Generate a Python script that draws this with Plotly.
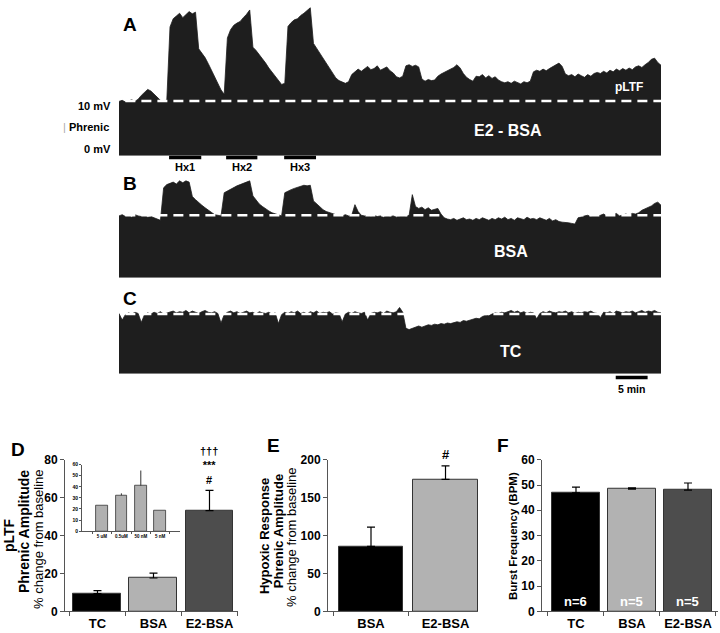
import numpy as np
import plotly.graph_objects as go

W, H = 720, 633
FONT = "Liberation Sans, Arial, sans-serif"

# ---------------- data ----------------
SAMPLE_MIN = 0.5  # minutes between envelope samples
BASELINE = 10     # baseline (dashed line) level, arbitrary units

# Integrated phrenic envelope, E2-BSA (panel A), every 0.5 min from 0 to 85 min
trace_A = [
    9.9, 10.1, 9.8, 10.0, 10.2, 9.9, 10.3, 11.0, 11.6, 12.1,
    11.8, 11.2, 10.6, 10.1, 9.9, 10.2, 23.5, 25.0, 25.5, 26.0,
    25.2, 25.8, 26.3, 25.9, 26.2, 19.5, 18.8, 17.9, 16.8, 15.6,
    14.3, 13.0, 12.0, 11.2, 21.5, 23.0, 23.8, 24.2, 24.5, 25.2,
    25.8, 26.6, 19.8, 19.2, 18.5, 17.6, 16.9, 16.0, 15.2, 14.4,
    13.6, 13.0, 13.2, 23.6, 24.3, 24.8, 25.0, 25.6, 26.0, 26.5,
    27.0, 20.5, 19.6, 18.7, 17.7, 16.8, 15.9, 15.0, 14.2, 13.7,
    13.4, 13.2, 13.5, 14.8, 15.3, 15.8, 15.4, 15.9, 16.3, 15.7,
    15.9, 16.4, 15.6, 15.9, 16.2, 15.5, 15.1, 14.4, 14.2, 14.5,
    16.4, 16.6, 16.3, 16.5, 16.2, 14.0, 13.6, 13.9, 13.7, 13.8,
    14.5, 14.9, 15.2, 15.6, 15.8, 16.1, 16.6, 16.0, 15.0, 14.3,
    13.9, 13.6, 14.5, 14.4, 14.8, 14.2, 14.6, 14.1, 14.4, 13.8,
    13.5, 13.3, 13.5, 13.2, 13.6, 13.4, 13.1, 13.5, 13.3, 13.6,
    15.3, 15.6, 15.4, 15.8, 15.5, 15.9, 16.2, 16.6, 16.9, 16.3,
    14.9, 14.6, 14.8, 14.4, 14.9, 14.6, 14.3, 14.8, 14.5, 15.0,
    15.2, 15.0, 15.4, 15.1, 15.6, 15.3, 15.8, 15.5, 15.9, 15.6,
    16.0, 15.7, 16.2, 16.4, 16.1, 16.6, 17.0, 17.6, 17.8, 17.0,
    16.5,
]

# BSA (panel B)
trace_B = [
    9.9, 10.1, 9.8, 10.0, 9.7, 10.1, 9.9, 9.8, 10.0, 9.7,
    9.8, 9.6, 9.3, 9.2, 14.4, 14.9, 15.1, 15.3, 15.0, 15.5,
    15.2, 15.5, 15.3, 13.0, 12.5, 12.0, 11.6, 11.2, 10.8, 10.4,
    10.1, 10.0, 9.9, 13.6, 13.9, 14.2, 14.5, 14.7, 14.9, 15.1,
    15.2, 15.5, 13.1, 12.4, 11.8, 11.4, 11.0, 10.7, 10.4, 10.2,
    10.0, 9.9, 13.6, 13.9, 14.1, 14.3, 14.5, 14.6, 14.8, 14.7,
    14.8, 12.3, 11.8, 11.3, 10.9, 10.6, 10.4, 10.2, 10.1, 10.0,
    9.9, 10.1, 9.9, 10.0, 11.7, 10.6, 10.0, 9.9, 10.1, 9.8,
    10.0, 9.8, 9.9, 9.7, 10.0, 9.8, 9.9, 9.7, 9.8, 10.0,
    9.8, 10.0, 13.3, 11.4, 11.1, 11.3, 10.9, 11.2, 10.8, 11.0,
    11.1, 10.2, 9.6, 9.4, 9.3, 9.5, 9.2, 9.4, 9.6, 9.3,
    9.4, 9.2, 9.5, 9.3, 9.6, 9.4, 9.2, 9.5, 9.3, 9.6,
    9.4, 9.7, 9.3, 9.5, 9.2, 9.6, 9.4, 9.3, 9.7, 9.4,
    9.5, 9.3, 9.6, 9.4, 9.2, 9.5, 9.1, 9.3, 9.0, 8.9,
    8.9, 8.8, 8.7, 8.6, 9.6, 9.8, 9.9, 10.0, 9.8, 10.1,
    9.9, 10.0, 10.2, 9.9, 10.1, 10.0, 10.3, 9.9, 10.1, 10.2,
    10.0, 10.3, 10.2, 10.4, 10.8, 11.0, 11.3, 11.5, 11.9, 12.1,
    11.6,
]

# Time control (panel C)
trace_C = [
    10.1, 9.0, 9.9, 10.2, 10.0, 10.3, 10.1, 8.6, 9.9, 10.2,
    10.0, 10.3, 10.1, 10.4, 10.0, 10.2, 10.3, 10.5, 10.2, 10.4,
    10.3, 10.6, 10.2, 10.5, 10.3, 10.1, 10.4, 10.6, 10.3, 10.2,
    10.4, 10.1, 8.5, 9.9, 10.3, 10.5, 10.2, 10.4, 10.1, 10.3,
    10.5, 10.2, 10.3, 10.0, 10.4, 10.2, 10.1, 10.3, 10.0, 10.2,
    8.4, 9.9, 10.3, 10.1, 10.4, 10.2, 10.5, 10.1, 10.3, 10.0,
    10.4, 10.2, 10.5, 10.1, 10.3, 10.2, 10.4, 10.0, 10.2, 10.1,
    8.7, 10.0, 10.3, 10.1, 10.4, 10.2, 10.1, 10.3, 9.0, 10.1,
    10.3, 10.2, 10.4, 10.1, 10.5, 10.3, 10.2, 10.4, 11.1, 10.3,
    7.6, 7.4, 7.6, 7.9, 8.0, 7.8, 8.0, 8.2, 8.1, 8.3,
    8.2, 8.4, 8.3, 8.5, 8.4, 8.6, 8.7, 8.6, 8.9, 8.8,
    9.0, 9.1, 9.3, 9.2, 9.6, 9.8, 9.7, 10.0, 10.2, 10.1,
    10.3, 10.2, 10.4, 10.6, 10.3, 10.5, 10.2, 10.4, 10.1, 10.3,
    10.2, 9.2, 10.1, 10.4, 10.2, 10.5, 10.3, 10.2, 10.4, 10.3,
    10.5, 10.2, 10.4, 10.1, 10.3, 10.2, 10.4, 10.3, 10.5, 10.2,
    10.1, 9.4, 10.3, 10.2, 10.4, 10.1, 10.5, 10.3, 10.2, 10.4,
    10.3, 10.5, 10.2, 10.4, 10.6, 10.3, 10.5, 10.4, 10.6, 10.3,
    10.2,
]

hypoxia_start = [7.85, 16.8, 25.9]
hypoxia_end = [12.9, 21.7, 30.9]
hypoxia_labels = ["Hx1", "Hx2", "Hx3"]
scale_bar_start = 77.9
scale_bar_minutes = 5

d_cats = ["TC", "BSA", "E2-BSA"]
d_vals = [9.3, 17.6, 53.2]
d_err = [1.6, 2.6, 10.6]

inset_cats = ["5 uM", "0.5uM", "50 nM", "5 nM"]
inset_vals = [23.0, 32.3, 41.0, 18.6]
inset_err = [0.0, 1.8, 13.7, 0.0]

e_cats = ["BSA", "E2-BSA"]
e_vals = [85.7, 174.0]
e_err = [25.5, 18.0]

f_cats = ["TC", "BSA", "E2-BSA"]
f_vals = [46.9, 48.4, 48.0]
f_err = [2.3, 0.5, 2.8]
f_n = ["n=6", "n=5", "n=5"]

C_BLACK = "#000000"
C_LIGHT = "#b2b2b2"
C_DARK = "#4d4d4d"
TRACE_COL = "#1e1e1e"

# ---------------- figure ----------------
def px(x):
    return x / W

def py(y):
    return 1 - y / H

fig = go.Figure()

for i, tr in enumerate([trace_A, trace_B, trace_C], start=1):
    t = np.arange(len(tr)) * SAMPLE_MIN
    fig.add_trace(go.Scatter(
        x=t, y=tr, mode="lines", fill="tozeroy",
        line=dict(color=TRACE_COL, width=0.8), fillcolor=TRACE_COL,
        xaxis=f"x{i if i > 1 else ''}", yaxis=f"y{i if i > 1 else ''}",
        hoverinfo="skip", showlegend=False))

def err(arr):
    return dict(type="data", array=arr, arrayminus=[0] * len(arr), symmetric=False,
                color="#000", thickness=1.2, width=4)

# D
fig.add_trace(go.Bar(x=d_cats, y=d_vals, width=0.857,
                     marker=dict(color=[C_BLACK, C_LIGHT, C_DARK], line=dict(color="#333", width=1)),
                     error_y=err(d_err), xaxis="x4", yaxis="y4", showlegend=False))
# inset
fig.add_trace(go.Bar(x=inset_cats, y=inset_vals, width=0.6,
                     marker=dict(color="#b0b0b0", line=dict(color="#333", width=0.8)),
                     error_y=dict(type="data", array=inset_err, arrayminus=[0] * 4, symmetric=False,
                                  color="#333", thickness=1, width=0),
                     xaxis="x7", yaxis="y7", showlegend=False))
# E
fig.add_trace(go.Bar(x=e_cats, y=e_vals, width=0.86,
                     marker=dict(color=[C_BLACK, C_LIGHT], line=dict(color="#333", width=1)),
                     error_y=err(e_err), xaxis="x5", yaxis="y5", showlegend=False))
# F
fig.add_trace(go.Bar(x=f_cats, y=f_vals, width=0.857,
                     marker=dict(color=[C_BLACK, C_LIGHT, C_DARK], line=dict(color="#333", width=1)),
                     error_y=err(f_err), xaxis="x6", yaxis="y6", showlegend=False))

hidden = dict(visible=False, fixedrange=True)
trace_x = dict(domain=[px(119), px(661)], range=[0, 85], **hidden)

bar_y = dict(domain=[py(618), py(463)], showline=True, linecolor="#555", linewidth=1,
             ticks="outside", ticklen=4, tickcolor="#555", showgrid=False, zeroline=False,
             tickfont=dict(family=FONT, size=12, color="#000", weight="bold"))
bar_x = dict(type="category", showline=True, linecolor="#555", linewidth=1,
             ticks="outside", ticklen=4, tickcolor="#555", tickson="boundaries",
             showgrid=False, zeroline=False, tickangle=0,
             tickfont=dict(family=FONT, size=13, color="#000", weight="bold"))

fig.update_layout(
    width=W, height=H, margin=dict(l=0, r=0, t=0, b=0),
    paper_bgcolor="white", plot_bgcolor="rgba(0,0,0,0)",
    bargap=0, font=dict(family=FONT),
    xaxis=dict(anchor="y", **trace_x),
    yaxis=dict(anchor="x", domain=[py(152), 1.0], range=[0, 152 / 5.6], **hidden),
    xaxis2=dict(anchor="y2", **trace_x),
    yaxis2=dict(anchor="x2", domain=[py(277), py(170)], range=[0, 107 / 6.4], **hidden),
    xaxis3=dict(anchor="y3", **trace_x),
    yaxis3=dict(anchor="x3", domain=[py(375), py(300)], range=[0, 75 / 6.1], **hidden),
    xaxis4=dict(anchor="y4", domain=[px(65), px(238)], range=[-0.58, 2.509], **bar_x),
    yaxis4=dict(anchor="x4", range=[0, 80], tickvals=[0, 20, 40, 60, 80], **bar_y),
    xaxis5=dict(anchor="y5", domain=[px(328), px(478)], range=[-0.577, 1.436], **bar_x),
    yaxis5=dict(anchor="x5", range=[0, 200], tickvals=[0, 50, 100, 150, 200], **bar_y),
    xaxis6=dict(anchor="y6", domain=[px(542), px(718)], range=[-0.607, 2.536], **bar_x),
    yaxis6=dict(anchor="x6", range=[0, 60], tickvals=[0, 10, 20, 30, 40, 50, 60], **bar_y),
    xaxis7=dict(anchor="y7", domain=[px(82), px(180)], range=[-1.03, 4.02], type="category",
                showline=True, linecolor="#555", linewidth=1, ticks="outside", ticklen=2,
                tickcolor="#555", tickson="boundaries", showgrid=False, zeroline=False,
                tickangle=0,
                tickfont=dict(family=FONT, size=4.5, color="#000", weight="bold")),
    yaxis7=dict(anchor="x7", domain=[py(536), py(468)], range=[0, 60],
                tickvals=[0, 10, 20, 30, 40, 50, 60], showline=True, linecolor="#555",
                linewidth=1, ticks="outside", ticklen=2, tickcolor="#555", showgrid=False,
                zeroline=False, tickfont=dict(family=FONT, size=5, color="#000", weight="bold")),
)

shapes = []
# dashed baseline lines
for xr, yr in [("x", "y"), ("x2", "y2"), ("x3", "y3")]:
    shapes.append(dict(type="line", xref=xr, yref=yr, x0=1.0, x1=85, y0=BASELINE, y1=BASELINE,
                       line=dict(color="white", width=2.5, dash="10px,6px")))
# hypoxia bars
for s, e in zip(hypoxia_start, hypoxia_end):
    shapes.append(dict(type="line", xref="x", yref="paper", x0=s, x1=e, y0=py(154), y1=py(154),
                       line=dict(color="black", width=3.5)))
# time scale bar
shapes.append(dict(type="line", xref="x3", yref="paper", x0=scale_bar_start,
                   x1=scale_bar_start + scale_bar_minutes, y0=py(379), y1=py(379),
                   line=dict(color="black", width=3.5)))
fig.update_layout(shapes=shapes)

ann = []
def A(text, x, y, size, xref="paper", yref="paper", color="black", bold=True,
      xanchor="center", yanchor="middle", angle=0):
    ann.append(dict(text=text, x=x, y=y, xref=xref, yref=yref, showarrow=False,
                    xanchor=xanchor, yanchor=yanchor, textangle=angle,
                    font=dict(family=FONT, size=size, color=color,
                              weight="bold" if bold else "normal")))

# panel letters
A("A", px(130), py(18), 19)
A("B", px(130), py(180), 19)
A("C", px(130), py(298), 19)
A("D", px(18), py(452), 19)
A("E", px(273), py(448), 19)
A("F", px(503), py(448), 19)

# trace labels
A("10 mV", px(113), py(101), 11, xanchor="right")
A("<span style='color:#aaa;font-weight:normal'>|</span> Phrenic", px(111), py(123), 11, xanchor="right")
A("0 mV", px(113), py(145), 11, xanchor="right")
A("pLTF", 80.0, py(82), 12, xref="x", color="white")
A("E2 - BSA", 61.0, py(126), 16, xref="x", color="white")
A("BSA", 61.5, py(250), 16, xref="x2", color="white")
A("TC", 61.5, py(352), 16, xref="x3", color="white")
for s, e, lab in zip(hypoxia_start, hypoxia_end, hypoxia_labels):
    A(lab, (s + e) / 2, py(164), 11, xref="x")
A("5 min", scale_bar_start + scale_bar_minutes / 2, py(391), 10.5, xref="x3")

# D axis titles
A("pLTF", px(9), py(540), 14, angle=-90)
A("Phrenic Amplitude", px(24), py(537), 14, angle=-90)
A("% change from baseline", px(39), py(545), 13, angle=-90, bold=False)
# E axis titles
A("Hypoxic Response", px(264), py(541), 13, angle=-90)
A("Phrenic Amplitude", px(278), py(536), 13, angle=-90)
A("% change from baseline", px(292), py(543), 13, angle=-90, bold=False)
# F axis title
A("Burst Frequency (BPM)", px(513), py(541), 11.5, angle=-90)

# significance markers (D): stacked †††, ***, # above the E2-BSA error bar
top_d = d_vals[2] + d_err[2]
A("†††<br>***<br>#", 2, top_d + 1.5, 11, xref="x4", yref="y4", yanchor="bottom")
A("#", 1, e_vals[1] + e_err[1] + 3, 13, xref="x5", yref="y5", yanchor="bottom")

# n labels
for i, n in enumerate(f_n):
    A(n, i, 4, 13, xref="x6", yref="y6", color="white")

fig.update_layout(annotations=ann)
fig.write_html("out.html", config={"displayModeBar": False},
               post_script="document.body.style.margin='0px';")
